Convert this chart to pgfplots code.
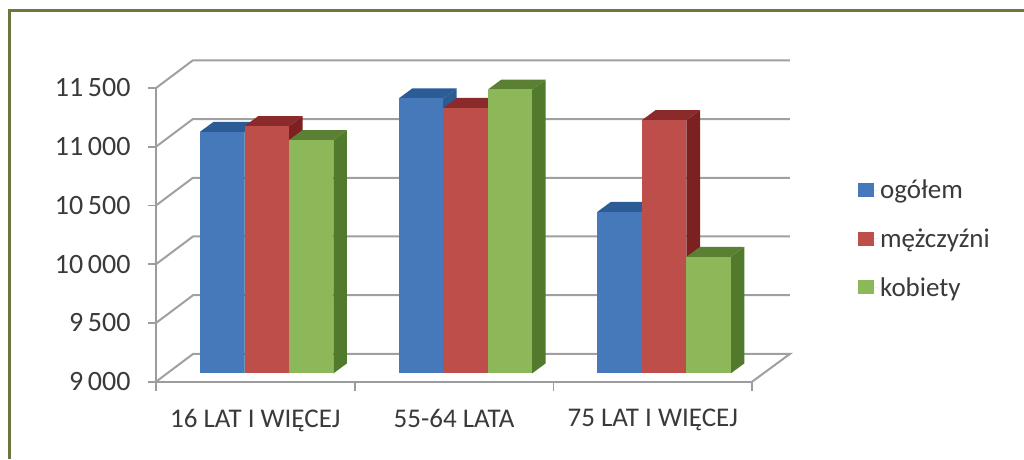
\documentclass[border=0pt]{standalone}
\usepackage{pgfplots}
\pgfplotsset{compat=1.18}
\usepackage{fontspec}
\setmainfont{Carlito}

\definecolor{framecol}{HTML}{6E7640}
\definecolor{gridcol}{HTML}{A0A0A0}
\definecolor{axiscol}{HTML}{9C9C9C}
\definecolor{textcol}{HTML}{3A3A3A}
\definecolor{blueF}{HTML}{4579BA}\definecolor{blueT}{HTML}{2C5C96}\definecolor{blueS}{HTML}{2C5C96}
\definecolor{redF}{HTML}{BE4E4A}\definecolor{redT}{HTML}{8A2A2A}\definecolor{redS}{HTML}{7D2020}
\definecolor{greenF}{HTML}{8CB85A}\definecolor{greenT}{HTML}{5C8033}\definecolor{greenS}{HTML}{527A2C}

% Back wall: a grid level runs up the side wall, then along the rear
\newcommand{\gridlevel}[1]{%
  \pgfmathsetmacro{\rear}{#1+236}%
  \addplot[gridcol,line width=2pt,forget plot] coordinates {(0,#1) (0.186,\rear) (3.19,\rear)};%
}
% One solid column: left edge in category units, then its value
\newcommand{\solidbar}[3]{%
  \pgfmathsetmacro{\xl}{#1}%
  \pgfmathsetmacro{\xr}{#1+0.2235}%
  \pgfmathsetmacro{\xrb}{\xr+0.068}%
  \pgfmathsetmacro{\xlb}{\xl+0.068}%
  \pgfmathsetmacro{\yb}{9000+71}%
  \pgfmathsetmacro{\yt}{#2+71}%
  \pgfmathsetmacro{\ybb}{\yb+85}%
  \pgfmathsetmacro{\ytb}{\yt+85}%
  \addplot[fill=#3S,draw=none,forget plot] coordinates {(\xr,\yb) (\xrb,\ybb) (\xrb,\ytb) (\xr,\yt)} -- cycle;%
  \addplot[fill=#3T,draw=none,forget plot] coordinates {(\xl,\yt) (\xlb,\ytb) (\xrb,\ytb) (\xr,\yt)} -- cycle;%
  \addplot[fill=#3F,draw=none,forget plot] coordinates {(\xl,\yb) (\xl,\yt) (\xr,\yt) (\xr,\yb)} -- cycle;%
}

\begin{document}
\begin{tikzpicture}[x=1pt,y=1pt]
\path[use as bounding box,fill=white] (0,0) rectangle (1024,459);
\fill[framecol] (8,0) rectangle (11,450);
\fill[framecol] (8,447) rectangle (1024,450);
\begin{axis}[
  at={(156pt,77.3pt)},anchor=origin,
  scale only axis,width=596.1pt,height=293.7pt,
  xmin=0,xmax=3,ymin=9000,ymax=11500,
  clip=false,
  axis lines=left,
  axis line style={axiscol,line width=2pt,-},
  tick align=outside,
  major tick length=8pt,
  ytick={9000,9500,10000,10500,11000,11500},
  minor xtick={0,1,2,3},
  xtick={0.5,1.5,2.5},
  xticklabels={16 LAT I WIĘCEJ,55-64 LATA,75 LAT I WIĘCEJ},
  y tick style={axiscol,line width=1.6pt},
  major x tick style={draw=none},
  minor x tick style={axiscol,line width=1.6pt},
  minor tick length=9pt,
  scaled y ticks=false,
  ticklabel style={font=\fontsize{27}{30}\selectfont,text=textcol},
  yticklabel style={xshift=-14pt,font=\fontsize{28}{30}\selectfont},
  xticklabel style={yshift=-16pt},
  /pgf/number format/fixed,
  /pgf/number format/1000 sep={\,},
  /pgf/number format/assume math mode=true,
  legend style={
    at={(axis cs:3.53,10736)},anchor=north west,
    draw=none,fill=none,inner sep=0pt,
    font=\fontsize{27}{30}\selectfont,text=textcol,
    row sep=24.5pt,
  },
  legend cell align=left,
  legend image code/.code={\fill[#1] (0pt,-7pt) rectangle (16.5pt,7pt);\path (0pt,0pt) -- (20.5pt,0pt);},
]
\gridlevel{11500}
\gridlevel{11000}
\gridlevel{10500}
\gridlevel{10000}
\gridlevel{9500}
\addplot[gridcol,line width=2pt,forget plot] coordinates {(0,9000) (0.186,9236) (3.19,9236) (3,9000)};

% 16 LAT I WIĘCEJ
\solidbar{0.2214}{11056}{blue}
\solidbar{0.4463}{11105}{red}
\solidbar{0.6695}{10986}{green}
% 55-64 LATA
\solidbar{1.2214}{11340}{blue}
\solidbar{1.4463}{11260}{red}
\solidbar{1.6695}{11415}{green}
% 75 LAT I WIĘCEJ
\solidbar{2.2214}{10375}{blue}
\solidbar{2.4463}{11156}{red}
\solidbar{2.6695}{9992}{green}

\addlegendimage{fill=blueF,draw=none}
\addlegendentry{ogółem}
\addlegendimage{fill=redF,draw=none}
\addlegendentry{mężczyźni}
\addlegendimage{fill=greenF,draw=none}
\addlegendentry{kobiety}
\end{axis}
\end{tikzpicture}
\end{document}
